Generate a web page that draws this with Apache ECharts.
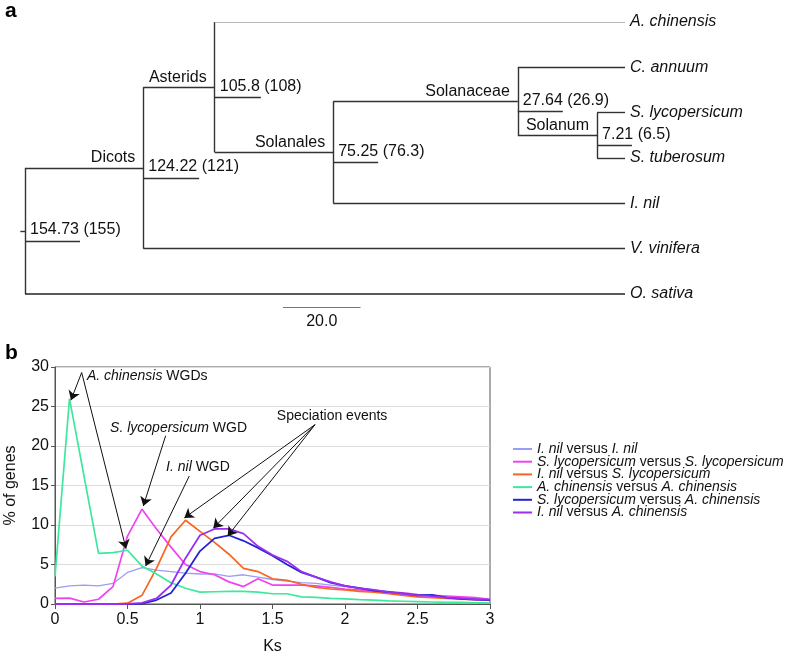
<!DOCTYPE html>
<html><head><meta charset="utf-8">
<script src="https://cdn.jsdelivr.net/npm/echarts@6/dist/echarts.min.js"></script>
<style>html,body{margin:0;padding:0;background:#fff}#c{width:788px;height:653px}</style>
</head><body><div id="c"></div>
<script>
// ---------- Panel a: dated tree ----------
const tipNames = ['A. chinensis', 'C. annuum', 'S. lycopersicum', 'S. tuberosum', 'I. nil', 'V. vinifera', 'O. sativa'];
const cladeNames = ['Root', 'Dicots', 'Asterids', 'Solanales', 'Solanaceae', 'Solanum'];
const cladeAges = [154.73, 124.22, 105.8, 75.25, 27.64, 7.21];
const cladeCitedAges = ['155', '121', '108', '76.3', '26.9', '6.5'];
const cladeLabels = ['', 'Dicots', 'Asterids', 'Solanales', 'Solanaceae', 'Solanum'];
const cladeChildren = [
  ['Dicots', 'O. sativa'],
  ['Asterids', 'V. vinifera'],
  ['A. chinensis', 'Solanales'],
  ['Solanaceae', 'I. nil'],
  ['C. annuum', 'Solanum'],
  ['S. lycopersicum', 'S. tuberosum']
];
const scaleBarLength = 20;
const scaleBarLabel = '20.0';

// ---------- Panel b: Ks distributions ----------
const ks = [0, 0.1, 0.2, 0.3, 0.4, 0.5, 0.6, 0.7, 0.8, 0.9, 1.0, 1.1, 1.2, 1.3, 1.4, 1.5, 1.6, 1.7, 1.8, 1.9, 2.0, 2.1, 2.2, 2.3, 2.4, 2.5, 2.6, 2.7, 2.8, 2.9, 3.0];
const seriesNames = [
  'I. nil versus I. nil',
  'S. lycopersicum versus S. lycopersicum',
  'I. nil versus S. lycopersicum',
  'A. chinensis versus A. chinensis',
  'S. lycopersicum versus A. chinensis',
  'I. nil versus A. chinensis'
];
const inilVsInil = [2.0, 2.3, 2.4, 2.3, 2.6, 4.0, 4.6, 4.3, 4.1, 3.9, 3.8, 3.8, 3.5, 3.7, 3.4, 3.1, 2.9, 2.7, 2.6, 2.4, 2.2, 2.0, 1.8, 1.6, 1.4, 1.2, 1.1, 0.9, 0.8, 0.7, 0.6];
const slycVsSlyc = [0.7, 0.75, 0.25, 0.6, 2.2, 8.6, 12.0, 9.5, 7.2, 5.0, 4.1, 3.7, 2.8, 2.2, 3.2, 2.4, 2.4, 2.4, 2.3, 2.1, 1.9, 1.8, 1.6, 1.5, 1.4, 1.2, 1.1, 1.0, 0.9, 0.8, 0.6];
const inilVsSlyc = [0, 0, 0, 0, 0, 0.1, 1.1, 4.5, 8.5, 10.6, 9.2, 7.8, 6.3, 4.5, 4.1, 3.2, 3.0, 2.5, 2.1, 1.9, 1.8, 1.6, 1.5, 1.3, 1.1, 0.9, 0.8, 0.7, 0.6, 0.55, 0.5];
const achiVsAchi = [3.5, 26.0, 16.2, 6.4, 6.5, 6.8, 4.8, 3.8, 2.7, 2.0, 1.5, 1.55, 1.6, 1.6, 1.5, 1.3, 1.3, 0.9, 0.85, 0.7, 0.65, 0.55, 0.5, 0.4, 0.35, 0.3, 0.25, 0.2, 0.2, 0.15, 0.15];
const slycVsAchi = [0, 0, 0, 0, 0, 0, 0.05, 0.5, 1.4, 3.9, 6.7, 8.3, 8.7, 8.0, 7.1, 6.1, 5.0, 4.0, 3.4, 2.7, 2.3, 2.0, 1.7, 1.5, 1.3, 1.1, 1.15, 0.8, 0.65, 0.55, 0.5];
const inilVsAchi = [0, 0, 0, 0, 0, 0.02, 0.15, 0.7, 2.4, 5.8, 8.7, 9.5, 9.5, 8.9, 7.3, 6.2, 5.4, 4.1, 3.4, 2.8, 2.3, 2.0, 1.8, 1.5, 1.3, 1.1, 1.0, 0.8, 0.7, 0.6, 0.55];
const xTicks = [0, 0.5, 1, 1.5, 2, 2.5, 3];
const yTicks = [0, 5, 10, 15, 20, 25, 30];

const annotationTexts = ['{i|A. chinensis} WGDs', '{i|S. lycopersicum} WGD', '{i|I. nil} WGD', 'Speciation events'];

// ---------- layout / style ----------
const FONT = "'Liberation Sans', Arial, Helvetica, sans-serif";
const seriesColors = ['#9a9cf6', '#f043ee', '#f7651f', '#3ee89c', '#2323d6', '#9a2ff2'];
const seriesWidths = [1.3, 1.7, 1.7, 1.7, 1.8, 1.8];
const seriesValues = [inilVsInil, slycVsSlyc, inilVsSlyc, achiVsAchi, slycVsAchi, inilVsAchi];
const underlineLen = [14.2, 14.4, 11.9, 11.6, 11.6, 9.0]; // My, decorative bars under node ages
const underlineDy = 0.22;

// tree layout
const yPos = {}, ageOf = {};
tipNames.forEach((n, i) => { yPos[n] = i; ageOf[n] = 0; });
cladeNames.forEach((n, i) => { ageOf[n] = cladeAges[i]; });
for (let i = cladeNames.length - 1; i >= 0; i--) {
  const ch = cladeChildren[i];
  yPos[cladeNames[i]] = ch.reduce((s, c) => s + yPos[c], 0) / ch.length;
}
const treeColor = '#333333';
const branches = [];
cladeNames.forEach((n, i) => {
  const a = cladeAges[i];
  const ys = cladeChildren[i].map(c => yPos[c]);
  branches.push({ coords: [[a, Math.min(...ys)], [a, Math.max(...ys)]] });
  cladeChildren[i].forEach(c => {
    const item = { coords: [[a, yPos[c]], [ageOf[c], yPos[c]]] };
    if (c === 'A. chinensis') item.lineStyle = { color: '#b8b8b8', width: 1.1 };
    if (c === 'O. sativa') item.lineStyle = { color: '#222', width: 1.7 };
    branches.push(item);
  });
  branches.push({ coords: [[a, yPos[n] + underlineDy], [a - underlineLen[i], yPos[n] + underlineDy]] });
});
branches.push({ coords: [[cladeAges[0] + 1.2, yPos.Root], [cladeAges[0], yPos.Root]] });
const scaleStart = 88.2, scaleY = 6.3;
branches.push({ coords: [[scaleStart, scaleY], [scaleStart - scaleBarLength, scaleY]], lineStyle: { color: '#777', width: 1 } });

const tipLabelData = tipNames.map(n => ({ value: [0, yPos[n]], name: n }));
const nodeNumData = cladeNames.map((n, i) => ({ value: [cladeAges[i], yPos[n]], name: cladeAges[i] + ' (' + cladeCitedAges[i] + ')' }));
const cladeNameData = cladeNames.map((n, i) => ({ value: [cladeAges[i], yPos[n]], name: cladeLabels[i] })).filter(d => d.name);
const scaleTextData = [{ value: [scaleStart - scaleBarLength / 2, scaleY], name: scaleBarLabel }];

// annotation arrows (data coordinates of panel b)
const arrowData = [
  { coords: [[0.184, 29.3], [0.11, 25.8]] },
  { coords: [[0.184, 29.3], [0.49, 7.0]] },
  { coords: [[0.763, 21.3], [0.609, 12.4]] },
  { coords: [[0.926, 16.2], [0.625, 4.8]] },
  { coords: [[1.793, 22.7], [0.892, 10.9]] },
  { coords: [[1.793, 22.7], [1.092, 9.6]] },
  { coords: [[1.793, 22.7], [1.191, 8.6]] }
];
const annotationAnchors = [[0.22, 28.9], [0.38, 22.3], [0.766, 17.3], [1.53, 23.8]];

const TXT = '#111';
const richItalic = { i: { fontStyle: 'italic', fontFamily: FONT, fontSize: 14, color: TXT } };

const chart = echarts.init(document.getElementById('c'), null, { renderer: 'canvas' });
const hidden = { show: false };
const labelScatter = (data, label, z) => ({
  type: 'scatter', xAxisIndex: label.axis, yAxisIndex: label.axis, symbolSize: 0, clip: false, silent: true, z: z || 4,
  itemStyle: { opacity: 1 }, data,
  label: Object.assign({ show: true, formatter: p => p.name, color: TXT, fontFamily: FONT, opacity: 1 }, label.style)
});
const option = {
  animation: false,
  backgroundColor: '#fff',
  textStyle: { fontFamily: FONT },
  title: [
    { text: 'a', left: 0, top: -4, textStyle: { fontSize: 21, fontWeight: 'bold', color: '#000', fontFamily: FONT } },
    { text: 'b', left: 0, top: 338, textStyle: { fontSize: 21, fontWeight: 'bold', color: '#000', fontFamily: FONT } }
  ],
  grid: [
    { left: 25, top: 22, width: 600, height: 272, show: false, outerBoundsMode: 'none', containLabel: false },
    { left: 55, top: 367, width: 435, height: 237, show: true, borderColor: '#555', borderWidth: 1, backgroundColor: 'transparent', outerBoundsMode: 'none', containLabel: false }
  ],
  xAxis: [
    { gridIndex: 0, type: 'value', min: 0, max: cladeAges[0], inverse: true, axisLine: hidden, axisTick: hidden, axisLabel: hidden, splitLine: hidden },
    { gridIndex: 1, type: 'value', min: xTicks[0], max: xTicks[xTicks.length - 1], interval: 0.5,
      name: 'Ks', nameLocation: 'middle', nameGap: 35, nameTextStyle: { fontSize: 16, color: TXT, fontFamily: FONT },
      axisLine: { show: true, lineStyle: { color: '#555', width: 1 } },
      axisTick: { show: true, inside: false, length: 5, lineStyle: { color: '#555' } },
      axisLabel: { fontSize: 16, color: TXT, margin: 8, fontFamily: FONT, formatter: v => String(v) },
      splitLine: hidden }
  ],
  yAxis: [
    { gridIndex: 0, type: 'value', min: 0, max: tipNames.length - 1, inverse: true, axisLine: hidden, axisTick: hidden, axisLabel: hidden, splitLine: hidden },
    { gridIndex: 1, type: 'value', min: yTicks[0], max: yTicks[yTicks.length - 1], interval: 5,
      name: '% of genes', nameLocation: 'middle', nameGap: 36, nameRotate: 90, nameTextStyle: { fontSize: 16, color: TXT, fontFamily: FONT },
      axisLine: { show: true, lineStyle: { color: '#555', width: 1 } },
      axisTick: { show: true, inside: false, length: 4, lineStyle: { color: '#555' } },
      axisLabel: { fontSize: 16, color: TXT, margin: 6, fontFamily: FONT },
      splitLine: { show: true, lineStyle: { color: '#dcdcdc', width: 1.2 } } }
  ],
  legend: {
    data: seriesNames, orient: 'vertical', left: 508, top: 437, itemWidth: 19, itemHeight: 2, itemGap: -1.3, icon: 'rect',
    formatter: name => name.split(' versus ').map(s => '{i|' + s + '}').join(' versus '),
    textStyle: { fontSize: 14, color: TXT, fontFamily: FONT,
      rich: { i: { fontStyle: 'italic', fontSize: 14, color: TXT, fontFamily: FONT } } }
  },
  series: [
    { type: 'lines', coordinateSystem: 'cartesian2d', xAxisIndex: 0, yAxisIndex: 0, clip: false, silent: true,
      lineStyle: { color: treeColor, width: 1.4, opacity: 1 }, data: branches, z: 2 },
    labelScatter(tipLabelData, { axis: 0, style: { position: 'right', distance: 5, fontSize: 16, fontStyle: 'italic' } }),
    labelScatter(nodeNumData, { axis: 0, style: { position: 'right', distance: 5, offset: [0, -1], fontSize: 16 } }),
    labelScatter(cladeNameData, { axis: 0, style: { position: 'left', distance: 8, offset: [0, -10], fontSize: 16 } }),
    labelScatter(scaleTextData, { axis: 0, style: { position: 'bottom', distance: 6, fontSize: 16 } }),
    ...seriesNames.map((name, k) => ({
      name, type: 'line', xAxisIndex: 1, yAxisIndex: 1, showSymbol: false, symbol: 'none', smooth: false,
      color: seriesColors[k], lineStyle: { color: seriesColors[k], width: seriesWidths[k] },
      data: ks.map((x, j) => [x, seriesValues[k][j]]), z: 3
    })),
    { type: 'lines', coordinateSystem: 'cartesian2d', xAxisIndex: 1, yAxisIndex: 1, clip: false, silent: true,
      symbol: ['none', 'arrow'], symbolSize: 9, lineStyle: { color: '#111', width: 1, opacity: 1 }, data: arrowData, z: 5 },
    labelScatter(annotationAnchors.map((c, i) => ({ value: c, name: annotationTexts[i] })),
      { axis: 1, style: { position: 'right', distance: 0, fontSize: 14, rich: richItalic } }, 6)
  ]
};
chart.setOption(option);
</script></body></html>
